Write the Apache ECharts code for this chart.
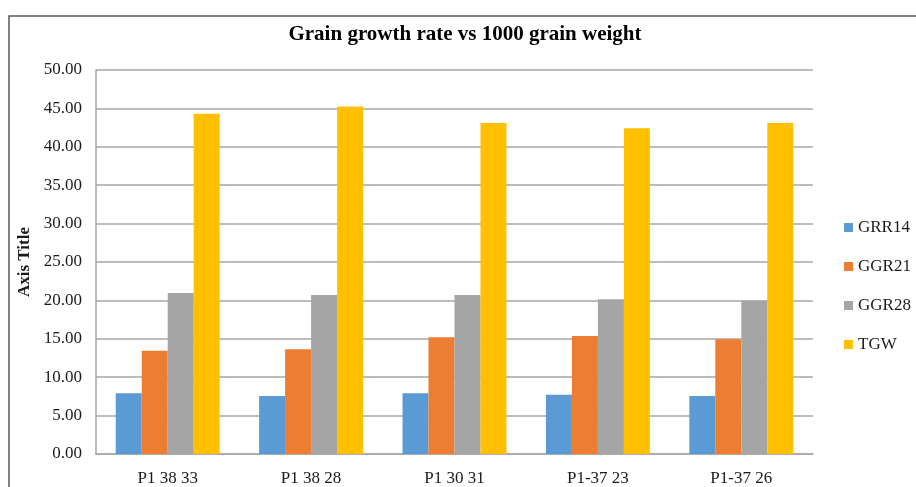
<!DOCTYPE html>
<html><head><meta charset="utf-8">
<script src="https://cdn.jsdelivr.net/npm/echarts@6/dist/echarts.min.js"></script>
<style>html,body{margin:0;padding:0;background:#fff}#c{width:916px;height:487px}</style>
</head><body><div id="c"></div>
<script>
const categories = ["P1 38 33", "P1 38 28", "P1 30 31", "P1-37 23", "P1-37 26"];
const GRR14 = [7.9, 7.55, 7.9, 7.7, 7.55];
const GGR21 = [13.45, 13.65, 15.2, 15.35, 14.95];
const GGR28 = [20.95, 20.7, 20.7, 20.15, 19.95];
const TGW = [44.3, 45.25, 43.1, 42.4, 43.1];
const seriesNames = ["GRR14", "GGR21", "GGR28", "TGW"];
const colors = ["#5B9BD5", "#ED7D31", "#A5A5A5", "#FFC000"];
const font = "'Liberation Serif', 'DejaVu Serif', serif";

const chart = echarts.init(document.getElementById('c'));
const data = [GRR14, GGR21, GGR28, TGW];
chart.setOption({
  animation: false,
  backgroundColor: '#fff',
  title: { text: 'Grain growth rate vs 1000 grain weight', left: 460, top: 19, textAlign: 'center',
    textStyle: { fontFamily: font, fontSize: 21, fontWeight: 'bold', color: '#000' } },
  graphic: [{ type: 'rect', shape: { x: 9, y: 16, width: 920, height: 480 }, silent: true,
    style: { fill: 'none', stroke: '#595959', lineWidth: 1.5 } }],
  legend: { orient: 'vertical', left: 839, top: 214, itemWidth: 9, itemHeight: 9, itemGap: 22,
    icon: 'rect', textStyle: { fontFamily: font, fontSize: 17, color: '#1a1a1a' }, data: seriesNames },
  grid: { left: 96, right: 103, top: 70, bottom: 33 },
  xAxis: { type: 'category', data: categories,
    axisLine: { lineStyle: { color: '#a6a6a6', width: 1.5 } }, axisTick: { show: false },
    axisLabel: { fontFamily: font, fontSize: 17, color: '#1a1a1a', margin: 16 } },
  yAxis: { type: 'value', min: 0, max: 50, interval: 5, name: 'Axis Title', nameLocation: 'middle', nameGap: 57,
    nameTextStyle: { fontFamily: font, fontSize: 17, fontWeight: 'bold', color: '#1a1a1a' },
    axisLine: { show: true, lineStyle: { color: '#a6a6a6', width: 1.5 } },
    axisLabel: { formatter: v => v.toFixed(2), fontFamily: font, fontSize: 17, color: '#1a1a1a', margin: 14 },
    splitLine: { lineStyle: { color: '#a6a6a6', width: 1.5 } } },
  series: seriesNames.map((n, i) => ({ name: n, type: 'bar', data: data[i], barGap: '0%', barCategoryGap: '27.5%',
    itemStyle: { color: colors[i] } }))
});
</script></body></html>
